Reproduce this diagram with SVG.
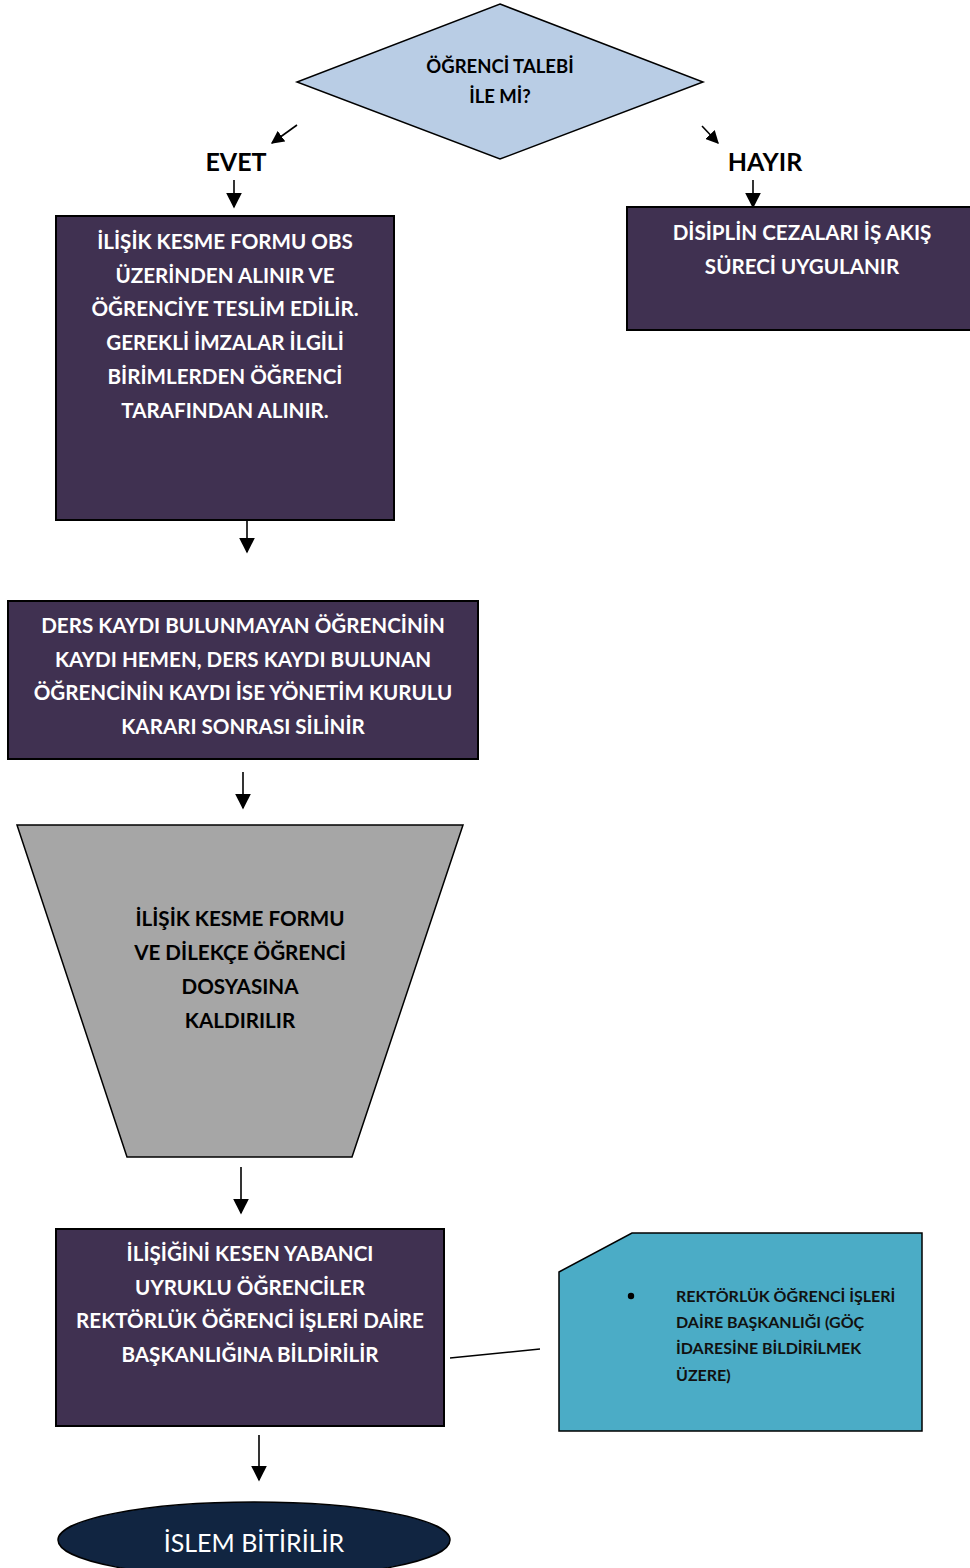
<svg xmlns="http://www.w3.org/2000/svg" width="970" height="1568" viewBox="0 0 970 1568">
  <defs>
    <marker id="ah" viewBox="0 0 10 10" refX="9" refY="5" markerWidth="13" markerHeight="13" markerUnits="userSpaceOnUse" orient="auto">
      <path d="M0,0 L10,5 L0,10 z" fill="#000"/>
    </marker>
    <marker id="ahL" viewBox="0 0 10 10" refX="9" refY="5" markerWidth="16" markerHeight="16" markerUnits="userSpaceOnUse" orient="auto">
      <path d="M0,0 L10,5 L0,10 z" fill="#000"/>
    </marker>
  </defs>
  <style>
    text { font-family: Lato, "Open Sans", "Liberation Sans", sans-serif; font-weight: bold; }
    .proc { fill: #403151; stroke: #000; stroke-width: 2; }
    .wt { fill: #fff; font-size: 20.6px; text-anchor: middle; }
    .bt { fill: #000; font-size: 20.6px; text-anchor: middle; }
    .lbl { fill: #000; font-size: 25px; text-anchor: middle; }
    .con { stroke: #000; stroke-width: 1.6; fill: none; }
  </style>
  <rect width="970" height="1568" fill="#fff"/>

  <g id="decision">
    <polygon points="500,4 703,82 500,159 297,82" fill="#B9CDE5" stroke="#000" stroke-width="1.5"/>
    <text x="500" y="73" class="bt" style="font-size:18.5px">ÖĞRENCİ TALEBİ</text>
    <text x="500" y="103" class="bt" style="font-size:18.5px">İLE Mİ?</text>
  </g>

  <g id="label-evet"><text x="236" y="171" class="lbl">EVET</text></g>
  <g id="label-hayir"><text x="765" y="171" class="lbl">HAYIR</text></g>

  <g id="step-form">
    <rect x="56" y="216" width="338" height="304" class="proc"/>
    <text x="225" y="249" class="wt">İLİŞİK KESME FORMU OBS</text>
    <text x="225" y="283" class="wt">ÜZERİNDEN ALINIR VE</text>
    <text x="225" y="316" class="wt">ÖĞRENCİYE TESLİM EDİLİR.</text>
    <text x="225" y="350" class="wt">GEREKLİ İMZALAR İLGİLİ</text>
    <text x="225" y="384" class="wt">BİRİMLERDEN ÖĞRENCİ</text>
    <text x="225" y="418" class="wt">TARAFINDAN ALINIR.</text>
  </g>

  <g id="step-discipline">
    <rect x="627" y="207" width="350" height="123" class="proc"/>
    <text x="802" y="240" class="wt">DİSİPLİN CEZALARI İŞ AKIŞ</text>
    <text x="802" y="274" class="wt">SÜRECİ UYGULANIR</text>
  </g>

  <g id="step-record">
    <rect x="8" y="601" width="470" height="158" class="proc"/>
    <text x="243" y="633" class="wt">DERS KAYDI BULUNMAYAN ÖĞRENCİNİN</text>
    <text x="243" y="667" class="wt">KAYDI HEMEN, DERS KAYDI BULUNAN</text>
    <text x="243" y="700" class="wt">ÖĞRENCİNİN KAYDI İSE YÖNETİM KURULU</text>
    <text x="243" y="734" class="wt">KARARI SONRASI SİLİNİR</text>
  </g>

  <g id="step-archive">
    <polygon points="17,825 463,825 352,1157 127,1157" fill="#A6A6A6" stroke="#000" stroke-width="1.5"/>
    <text x="240" y="926" class="bt">İLİŞİK KESME FORMU</text>
    <text x="240" y="960" class="bt">VE DİLEKÇE ÖĞRENCİ</text>
    <text x="240" y="994" class="bt">DOSYASINA</text>
    <text x="240" y="1028" class="bt">KALDIRILIR</text>
  </g>

  <g id="step-notify">
    <rect x="56" y="1229" width="388" height="197" class="proc"/>
    <text x="250" y="1261" class="wt">İLİŞİĞİNİ KESEN YABANCI</text>
    <text x="250" y="1295" class="wt">UYRUKLU ÖĞRENCİLER</text>
    <text x="250" y="1328" class="wt">REKTÖRLÜK ÖĞRENCİ İŞLERİ DAİRE</text>
    <text x="250" y="1362" class="wt">BAŞKANLIĞINA BİLDİRİLİR</text>
  </g>

  <g id="note-office">
    <polygon points="559,1272 632,1233 922,1233 922,1431 559,1431" fill="#4BACC6" stroke="#000" stroke-width="1.5"/>
    <circle cx="631" cy="1296" r="3.2" fill="#000"/>
    <g style="font-size:16px" fill="#111">
      <text x="676" y="1302">REKTÖRLÜK ÖĞRENCİ İŞLERİ</text>
      <text x="676" y="1328">DAİRE BAŞKANLIĞI (GÖÇ</text>
      <text x="676" y="1354">İDARESİNE BİLDİRİLMEK</text>
      <text x="676" y="1381">ÜZERE)</text>
    </g>
  </g>

  <g id="end">
    <ellipse cx="254" cy="1540" rx="196" ry="38" fill="#112541" stroke="#000" stroke-width="1.5"/>
    <text x="254" y="1552" style="font-weight:normal;font-size:25px;fill:#fff;text-anchor:middle">İSLEM BİTİRİLİR</text>
  </g>

  <g id="connectors">
    <line x1="297" y1="125" x2="272" y2="143" class="con" marker-end="url(#ah)"/>
    <line x1="702" y1="126" x2="718" y2="143" class="con" marker-end="url(#ah)"/>
    <line x1="234" y1="180" x2="234" y2="207" class="con" marker-end="url(#ahL)"/>
    <line x1="753" y1="180" x2="753" y2="207" class="con" marker-end="url(#ahL)"/>
    <line x1="247" y1="520" x2="247" y2="552" class="con" marker-end="url(#ahL)"/>
    <line x1="243" y1="772" x2="243" y2="808" class="con" marker-end="url(#ahL)"/>
    <line x1="241" y1="1167" x2="241" y2="1213" class="con" marker-end="url(#ahL)"/>
    <line x1="259" y1="1435" x2="259" y2="1480" class="con" marker-end="url(#ahL)"/>
    <line x1="450" y1="1358" x2="540" y2="1349" class="con"/>
  </g>
</svg>
